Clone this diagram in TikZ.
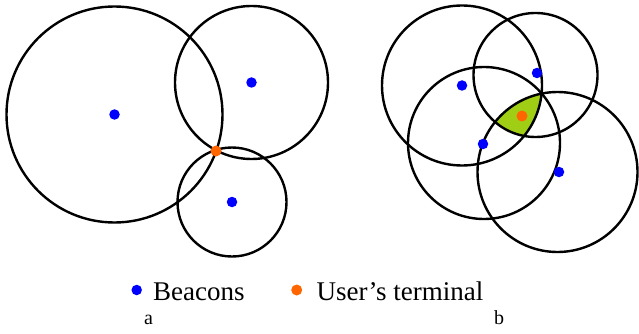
\documentclass[tikz,border=0pt]{standalone}
\usepackage{fontspec}
\setmainfont{Liberation Serif}
\usetikzlibrary{positioning}
\definecolor{beacon}{RGB}{0,0,255}
\definecolor{user}{RGB}{255,102,0}
\definecolor{zone}{RGB}{160,206,20}

\begin{document}
\begin{tikzpicture}[x=1pt,y=-1pt,
  ring/.style={line width=2.4pt},
  bdot/.style={circle,fill=beacon,inner sep=0pt,minimum size=10.5pt},
  udot/.style={circle,fill=user,inner sep=0pt,minimum size=11pt},
  keytext/.style={font=\fontsize{27}{31}\selectfont,anchor=base west,inner sep=0pt},
  panel/.style={font=\fontsize{20}{23}\selectfont,anchor=base,inner sep=0pt}]
\useasboundingbox (0,0) rectangle (639,334);
% panel a: three beacons, one common point
\coordinate (a1) at (114.5,114.5);
\coordinate (a2) at (251.5,82.5);
\coordinate (a3) at (232,202);
\coordinate (au) at (216,151);
\draw[ring] (a1) circle (108pt);
\draw[ring] (a2) circle (76.5pt);
\draw[ring] (a3) circle (54.5pt);
\node[bdot] (a1d) at (a1) {};
\node[bdot] (a2d) at (a2) {};
\node[bdot] (a3d) at (a3) {};
\node[udot] (aud) at (au) {};
% panel b: four beacons, shared zone
\coordinate (b1) at (462,85.5);
\coordinate (b2) at (535.5,75);
\coordinate (b3) at (484,143);
\coordinate (b4) at (557.5,172);
\coordinate (bu) at (522,116);
\begin{scope}
\clip (b1) circle (80pt);
\clip (b2) circle (62pt);
\clip (b4) circle (80pt);
\fill[zone] (b3) circle (76pt);
\end{scope}
\draw[ring] (b1) circle (80pt);
\draw[ring] (b2) circle (62pt);
\draw[ring] (b3) circle (76pt);
\draw[ring] (b4) circle (80pt);
\node[bdot] (b1d) at (b1) {};
\node[bdot] (b2d) at (537,73) {};
\node[bdot] (b3d) at (483,144) {};
\node[bdot] (b4d) at (559,172) {};
\node[udot] (bud) at (bu) {};
% legend
\node[bdot] (keyb) at (136.7,290) {};
\node[keytext] (keybt) at (153,300) {Beacons};
\node[udot] (keyu) at (296.7,290) {};
\node[keytext] (keyut) at (316.5,300) {User’s terminal};
\node[panel] (la) at (148.5,324) {a};
\node[panel] (lb) at (499,324) {b};
\end{tikzpicture}
\end{document}
